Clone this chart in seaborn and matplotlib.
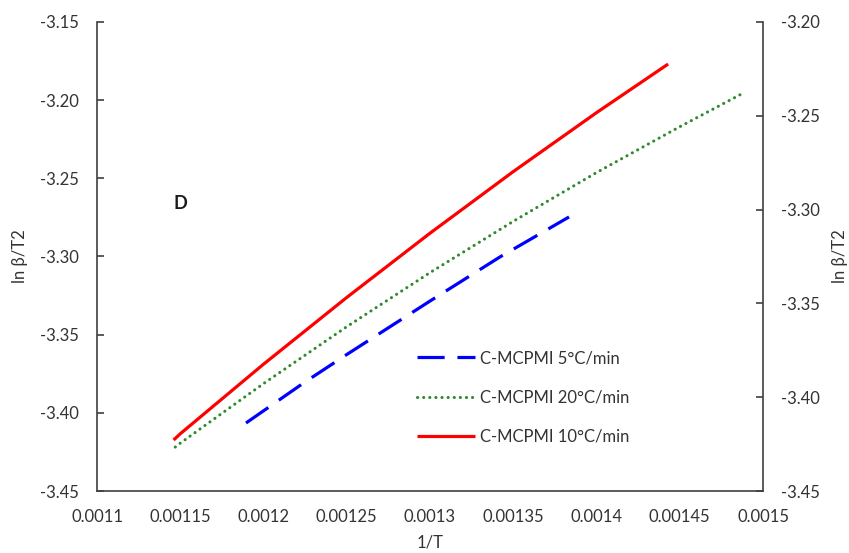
import matplotlib
matplotlib.use("Agg")
import matplotlib.pyplot as plt
import seaborn as sns
import pandas as pd
import numpy as np
from matplotlib.ticker import FixedLocator, FuncFormatter

# ---- data ----
x_5 = [0.0011895, 0.0012249, 0.00125, 0.0013, 0.001342, 0.0013835]
y_5 = [-3.4065, -3.3803, -3.3627, -3.3285, -3.3003, -3.2747]

x_20 = [0.001147, 0.00115, 0.0012, 0.00125, 0.0013, 0.00135, 0.0014, 0.00145, 0.001487]
y_20 = [-3.4219, -3.4194, -3.3813, -3.3449, -3.3103, -3.2775, -3.2463, -3.2170, -3.1961]

x_10 = [0.001146, 0.00115, 0.0012, 0.00125, 0.0013, 0.00135, 0.0014, 0.001443]
y_10 = [-3.4174, -3.4134, -3.3689, -3.3262, -3.2851, -3.2457, -3.2080, -3.1769]

labels = ["C-MCPMI 5°C/min", "C-MCPMI 20°C/min", "C-MCPMI 10°C/min"]
x_ticks = [0.0011, 0.00115, 0.0012, 0.00125, 0.0013, 0.00135, 0.0014, 0.00145, 0.0015]
yl_ticks = [-3.45, -3.40, -3.35, -3.30, -3.25, -3.20, -3.15]
yr_ticks = [-3.45, -3.40, -3.35, -3.30, -3.25, -3.20]

df = pd.concat([
    pd.DataFrame({"x": x_5, "y": y_5, "series": labels[0]}),
    pd.DataFrame({"x": x_20, "y": y_20, "series": labels[1]}),
    pd.DataFrame({"x": x_10, "y": y_10, "series": labels[2]}),
], ignore_index=True)

sns.set_style("white")
plt.rcParams["font.family"] = ["Lato", "DejaVu Sans"]
TXT = "#333333"
FS = 12

fig = plt.figure(figsize=(8.49, 5.53), dpi=100)
W, H = 849, 553
L, R, T, B = 97, 763, 22, 491
ax = fig.add_axes([L / W, 1 - B / H, (R - L) / W, (B - T) / H])

palette = {labels[0]: "#0000ff", labels[1]: "#2f8a2f", labels[2]: "#ff0000"}
sns.lineplot(data=df, x="x", y="y", hue="series", palette=palette,
             estimator=None, sort=False, ax=ax, legend=False)

lines = ax.get_lines()
styles = [
    dict(lw=2.3, dashes=(8.5, 4.0), dash_capstyle="butt"),
    dict(lw=2.2, dashes=(0.05, 1.95), dash_capstyle="round"),
    dict(lw=2.3, ls="-", solid_capstyle="butt"),
]
for ln, st in zip(lines, styles):
    ln.set_linewidth(st["lw"])
    if "dashes" in st:
        ln.set_dashes(st["dashes"])
        ln.set_dash_capstyle(st["dash_capstyle"])
    else:
        ln.set_linestyle("-")
        ln.set_solid_capstyle(st["solid_capstyle"])

ax.set_xlim(0.0011, 0.0015)
ax.set_ylim(-3.45, -3.15)
ax.xaxis.set_major_locator(FixedLocator(x_ticks))
ax.xaxis.set_major_formatter(FuncFormatter(lambda v, p: f"{v:.5f}".rstrip("0")))
ax.yaxis.set_major_locator(FixedLocator(yl_ticks))
ax.yaxis.set_major_formatter(FuncFormatter(lambda v, p: f"{v:.2f}"))

ax2 = ax.twinx()
ax2.set_ylim(-3.45, -3.20)
ax2.yaxis.set_major_locator(FixedLocator(yr_ticks))
ax2.yaxis.set_major_formatter(FuncFormatter(lambda v, p: f"{v:.2f}"))

for a in (ax, ax2):
    for s in a.spines.values():
        s.set_color("#404040")
        s.set_linewidth(1.2)
    a.spines["top"].set_visible(False)
    a.tick_params(direction="in", length=5, width=1.2, color="#404040",
                  labelsize=FS, labelcolor=TXT, pad=13)
ax.spines["right"].set_visible(False)
ax2.spines["left"].set_visible(False)
ax2.spines["bottom"].set_visible(False)
ax.tick_params(axis="x", pad=13)

ax.set_xlabel("1/T", fontsize=FS, color=TXT, labelpad=7)
ax.set_ylabel("ln β/T2", fontsize=FS, color=TXT, labelpad=9)
ax2.set_ylabel("ln β/T2", fontsize=FS, color=TXT, rotation=90, labelpad=9)

ax.text(0.1246, 0.614, "D", transform=ax.transAxes, fontsize=13,
        fontweight="bold", color="#1a1a1a", ha="center", va="center")

handles = lines
leg = ax.legend(handles, labels, loc="upper left",
                bbox_to_anchor=((417 - L) / (R - L), (B - 350) / (B - T)),
                frameon=False, fontsize=FS, borderpad=0, borderaxespad=0,
                handlelength=3.5, handletextpad=0.3, labelspacing=1.40)
for t in leg.get_texts():
    t.set_color(TXT)

fig.savefig("out.png", dpi=100)
